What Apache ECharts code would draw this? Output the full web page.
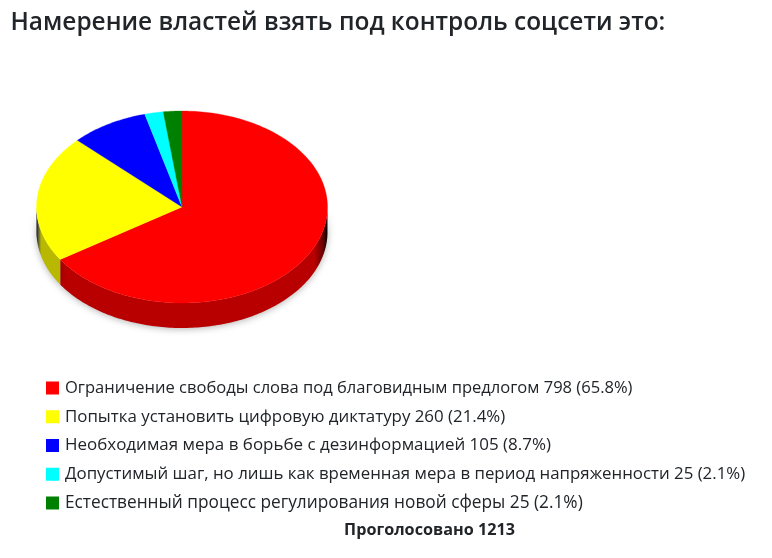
<!DOCTYPE html>
<html><head><meta charset="utf-8">
<style>html,body{margin:0;padding:0;background:#fff}#c{width:772px;height:558px}</style>
<script src="https://cdn.jsdelivr.net/npm/echarts@6/dist/echarts.min.js"></script>
</head><body><div id="c"></div>
<script>
var titleText = 'Намерение властей взять под контроль соцсети это:';
var footerText = 'Проголосовано 1213';
var categories = [
  'Ограничение свободы слова под благовидным предлогом',
  'Попытка установить цифровую диктатуру',
  'Необходимая мера в борьбе с дезинформацией',
  'Допустимый шаг, но лишь как временная мера в период напряженности',
  'Естественный процесс регулирования новой сферы'
];
var values = [798, 260, 105, 25, 25];
var percents = ['65.8%', '21.4%', '8.7%', '2.1%', '2.1%'];
var colors = ['#ff0000', '#ffff00', '#0000ff', '#00ffff', '#008000'];
var rimColors = ['#b80000', '#b8b800', '#0000b8', '#00b8b8', '#005c00'];
var legendFontSizes = [16.55, 16.87, 16.97, 16.85, 17.27];

var CX = 182, CY = 207, RX = 145.5, RY = 96, DEPTH = 25;
var total = values.reduce(function (a, b) { return a + b; }, 0);
var FONT = '"Open Sans","Noto Sans",sans-serif';

function pt(turn, dy) {
  var a = turn * 2 * Math.PI;
  return [CX + RX * Math.sin(a), CY - RY * Math.cos(a) + (dy || 0)];
}
function rimGradient(c) {
  return new echarts.graphic.LinearGradient(CX - RX, 0, CX + RX, 0, [
    { offset: 0, color: '#000' }, { offset: 0.004, color: '#444' }, { offset: 0.016, color: c },
    { offset: 0.955, color: c }, { offset: 0.985, color: '#600' }, { offset: 1, color: '#000' }
  ], true);
}
function sliceRender(idx) {
  return function (params, api) {
    var start = api.value(0) / total, end = api.value(1) / total;
    var face = [[CX, CY]], rimTop = [], rimBot = [], n = Math.max(4, Math.ceil((end - start) * 360));
    for (var i = 0; i <= n; i++) {
      var t = start + (end - start) * i / n;
      face.push(pt(t));
      var lower = Math.cos(t * 2 * Math.PI) < 0.02;
      if (lower) { rimTop.push(pt(t)); rimBot.unshift(pt(t, DEPTH)); }
    }
    var children = [];
    if (rimTop.length > 1) {
      children.push({
        type: 'polygon', shape: { points: rimTop.concat(rimBot) },
        style: { fill: rimGradient(rimColors[idx]), shadowBlur: 7, shadowColor: 'rgba(0,0,0,0.3)', shadowOffsetY: 1 }
      });
    }
    children.push({
      type: 'polygon', shape: { points: face },
      style: { fill: colors[idx], stroke: colors[idx], lineWidth: 0.3 }
    });
    return { type: 'group', children: children };
  };
}
var acc = 0;
var series = categories.map(function (name, i) {
  var s = acc; acc += values[i];
  return {
    type: 'custom', name: name, coordinateSystem: 'none',
    silent: true, animation: false,
    itemStyle: { color: colors[i] },
    encode: { value: [0, 1] },
    data: [[s, acc]], renderItem: sliceRender(i)
  };
});
var rich = {};
legendFontSizes.forEach(function (sz, i) {
  rich['r' + i] = { fontFamily: FONT, fontSize: sz, color: '#212529', lineHeight: 20 };
});

var chart = echarts.init(document.getElementById('c'), null, { renderer: 'canvas' });
chart.setOption({
  animation: false,
  backgroundColor: '#fff',
  title: [
    { text: titleText, left: 10.5, top: 11, padding: 0, textStyle: { fontFamily: FONT, fontSize: 24.45, fontWeight: 600, color: '#212529' } },
    { text: footerText, left: 429.5, top: 522.5, padding: 0, textAlign: 'center', textStyle: { fontFamily: FONT, fontSize: 16.2, fontWeight: 700, color: '#212529' } }
  ],
  legend: {
    orient: 'vertical', left: 46, top: 378, padding: 0, itemWidth: 13, itemHeight: 13, itemGap: 8.75,
    selectedMode: false, icon: 'rect',
    data: categories,
    textStyle: { fontFamily: FONT, fontSize: 16.55, color: '#212529', lineHeight: 20, padding: [0, 0, 0, 1], rich: rich },
    formatter: function (name) {
      var i = categories.indexOf(name);
      return '{r' + i + '|' + name + ' ' + values[i] + ' (' + percents[i] + ')}';
    }
  },
  series: series
});
</script></body></html>
